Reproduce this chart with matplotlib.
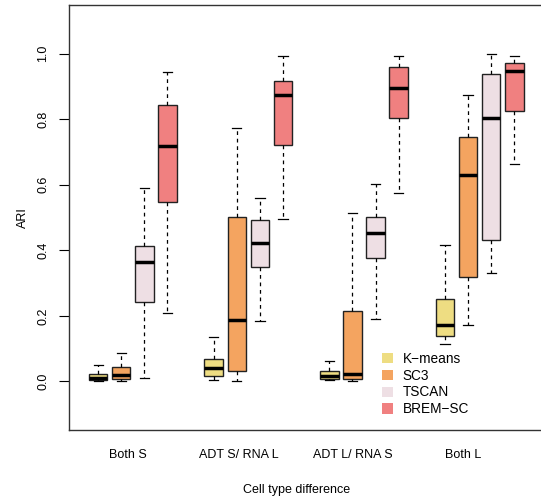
import matplotlib
matplotlib.use("Agg")
import matplotlib.pyplot as plt
from matplotlib.patches import Patch

plt.rcParams['font.family'] = ['Liberation Sans', 'DejaVu Sans']

groups = ["Both S", "ADT S/ RNA L", "ADT L/ RNA S", "Both L"]
methods = ["K\u2212means", "SC3", "TSCAN", "BREM\u2212SC"]
colors = ["#EEDD82", "#F4A460", "#EEDFE4", "#F08080"]

# five-number summaries: (whisker lo, q1, median, q3, whisker hi)
# one list per method, one entry per group
kmeans = [(0.001, 0.005, 0.011, 0.023, 0.049),
          (0.005, 0.017, 0.042, 0.070, 0.135),
          (0.003, 0.009, 0.018, 0.033, 0.061),
          (0.113, 0.139, 0.171, 0.250, 0.415)]
sc3 = [(0.000, 0.009, 0.021, 0.045, 0.087),
       (0.000, 0.033, 0.188, 0.502, 0.773),
       (0.002, 0.007, 0.024, 0.215, 0.514),
       (0.172, 0.319, 0.631, 0.747, 0.875)]
tscan = [(0.012, 0.242, 0.363, 0.414, 0.589),
         (0.183, 0.348, 0.423, 0.492, 0.559),
         (0.191, 0.375, 0.453, 0.500, 0.602),
         (0.332, 0.431, 0.802, 0.939, 0.999)]
brem = [(0.210, 0.547, 0.717, 0.844, 0.945),
        (0.494, 0.722, 0.873, 0.917, 0.993),
        (0.574, 0.802, 0.896, 0.958, 0.993),
        (0.662, 0.824, 0.948, 0.970, 0.993)]
label_pos = [2.3, 7.1, 12.0, 16.8]

fig = plt.figure(figsize=(5.41, 5.0), dpi=100)
ax = fig.add_axes([69 / 541, 0.14, (543.4 - 69) / 541, 0.85])

series = [kmeans, sc3, tscan, brem]
for m, (summ, col) in enumerate(zip(series, colors)):
    stats = []
    pos = []
    for g, (lo, q1, med, q3, hi) in enumerate(summ):
        stats.append(dict(whislo=lo, q1=q1, med=med, q3=q3, whishi=hi, fliers=[]))
        pos.append(1 + 5 * g + m)
    ax.bxp(stats, positions=pos, widths=0.8, patch_artist=True, showfliers=False,
           boxprops=dict(facecolor=col, edgecolor="#222222", linewidth=1.0),
           medianprops=dict(color="black", linewidth=2.5),
           whiskerprops=dict(color="black", linestyle=(0, (3, 3)), linewidth=0.9),
           capprops=dict(color="black", linewidth=0.9), capwidths=0.4)

ax.set_xlim(-0.26, 20.26)
ax.set_ylim(-0.148, 1.148)
ax.set_xticks([])
ax.set_yticks([0.0, 0.2, 0.4, 0.6, 0.8, 1.0])
ax.set_yticklabels(["0.0", "0.2", "0.4", "0.6", "0.8", "1.0"], rotation=90, va="center", fontsize=9)
ax.tick_params(axis="y", length=7, width=0.8, pad=7)
for s in ax.spines.values():
    s.set_linewidth(1.0)
    s.set_color("#333333")

for x, lab in zip(label_pos, groups):
    ax.text(x, -0.224, lab, ha="center", va="center", fontsize=9)
ax.text(9.6, -0.33, "Cell type difference", ha="center", va="center", fontsize=9)
ax.set_ylabel("ARI", fontsize=9, labelpad=6)

handles = [Patch(facecolor=c, edgecolor="none") for c in colors]
ax.legend(handles, methods, loc="upper left", bbox_to_anchor=(382 / 541, 1 - 352 / 500),
          bbox_transform=fig.transFigure, frameon=False, borderpad=0, borderaxespad=0,
          fontsize=9.8, handlelength=0.8, handleheight=0.8, handletextpad=0.7, labelspacing=0.2)

fig.savefig("out.png", dpi=100)
